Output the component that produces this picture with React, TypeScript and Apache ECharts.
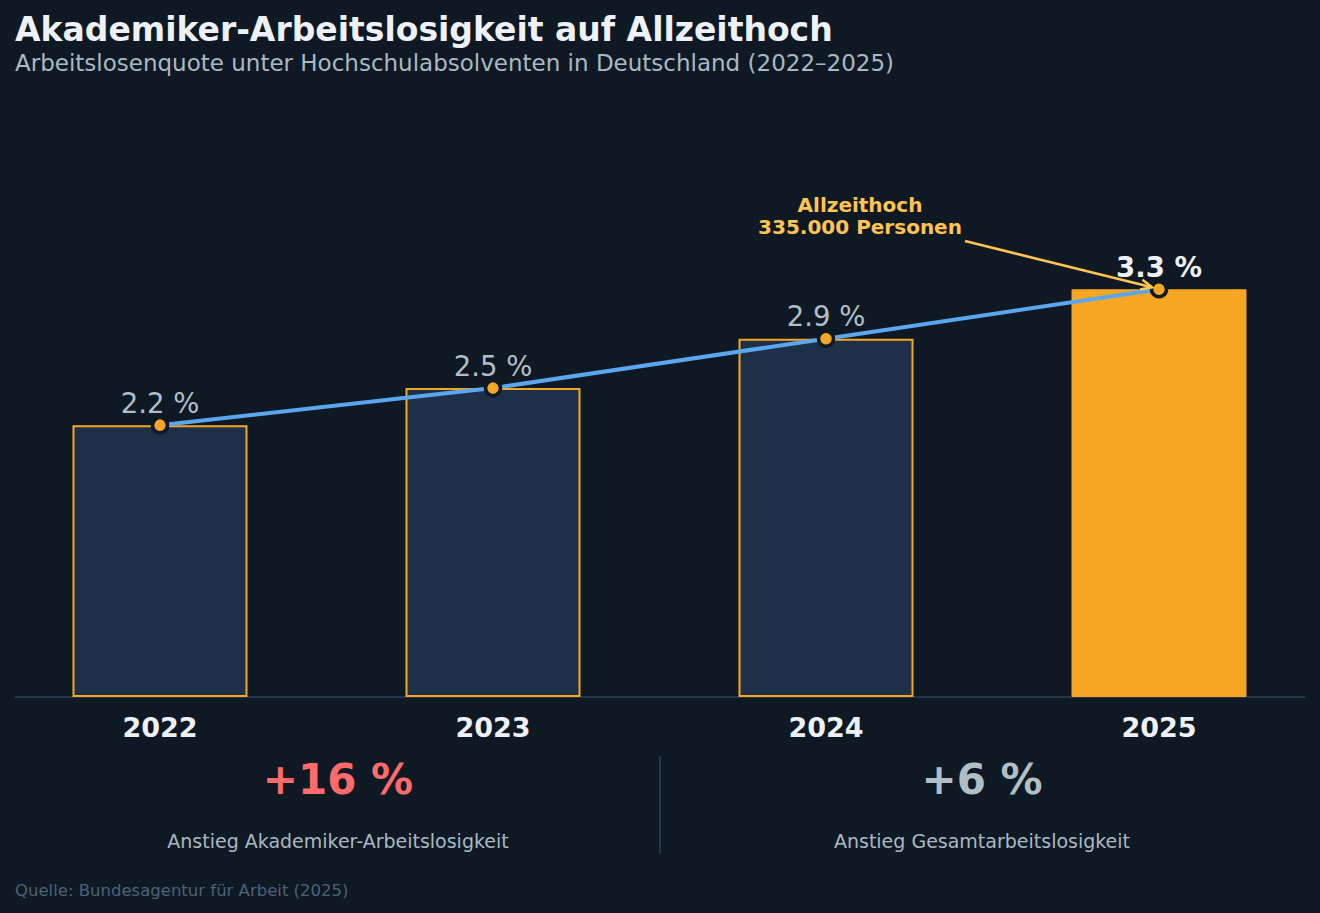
import React, { useEffect, useRef } from "react";
import * as echarts from "echarts";

const years = ["2022", "2023", "2024", "2025"];
const rates = [2.2, 2.5, 2.9, 3.3];
const rateLabels = ["2.2 %", "2.5 %", "2.9 %", "3.3 %"];
const kpiValues = ["+16 %", "+6 %"];
const kpiLabels = ["Anstieg Akademiker-Arbeitslosigkeit", "Anstieg Gesamtarbeitslosigkeit"];

const FONT = "DejaVu Sans";
const BG = "#0f1923";
const ORANGE = "#f5a623";

export default function App() {
  const ref = useRef<HTMLDivElement>(null);
  useEffect(() => {
    document.body.style.margin = "0";
    const chart = echarts.init(ref.current!, null, { renderer: "svg" });
    const last = rates.length - 1;
    const idx = years.map((_, i) => i);
    const option: any = {
      animation: false,
      backgroundColor: BG,
      textStyle: { fontFamily: FONT },
      grid: { left: 15, right: 15, top: 141, bottom: 913 - 697 },
      xAxis: {
        type: "value",
        min: -0.4354,
        max: 3.4384,
        splitLine: { show: false },
        axisLine: { show: true, onZero: false, lineStyle: { color: "#2a3f58", width: 1.5 } },
        axisTick: { show: false },
        axisLabel: {
          customValues: idx,
          color: "#eef2f8",
          fontSize: 27,
          fontWeight: "bold",
          margin: 17,
          fontFamily: FONT,
          formatter: (v: number) => years[Math.round(v)] ?? "",
        },
      },
      yAxis: { type: "value", min: 0, max: 4.5, show: false, splitLine: { show: false } },
      series: [
        {
          type: "bar",
          barWidth: 175,
          data: rates.map((v, i) =>
            i === last
              ? { value: [i, v], itemStyle: { color: ORANGE, borderColor: ORANGE, borderWidth: 1 } }
              : { value: [i, v], itemStyle: { color: "#1e3048", borderColor: ORANGE, borderWidth: 2 } }
          ),
          z: 2,
        },
        {
          type: "line",
          z: 5,
          lineStyle: { color: "#5aa7f0", width: 4 },
          symbol: "circle",
          symbolSize: 15,
          itemStyle: { color: ORANGE, borderColor: BG, borderWidth: 3.5 },
          label: {
            show: true,
            position: "top",
            distance: -1,
            fontFamily: FONT,
            formatter: (p: any) => rateLabels[p.dataIndex],
            color: "#b0bec5",
            fontSize: 27.5,
          },
          data: rates.map((v, i) =>
            i === last
              ? { value: [i, v], label: { color: "#eef2f8", fontWeight: "bold" } }
              : { value: [i, v] }
          ),
        },
      ],
    };
    chart.setOption(option);

    const end = chart.convertToPixel({ gridIndex: 0 }, [last, rates[last]]) as number[];
    const sx = 965, sy = 241;
    const ex = end[0] - 7, ey = end[1] - 2;
    const ang = Math.atan2(ey - sy, ex - sx);
    const ah = 11, aw = 5;
    const bx = ex - ah * Math.cos(ang), by = ey - ah * Math.sin(ang);
    chart.setOption({
      graphic: [
        { type: "text", left: 15, top: 13, style: { text: "Akademiker-Arbeitslosigkeit auf Allzeithoch", fill: "#eef2f8", font: `bold 33px "${FONT}"` } },
        { type: "text", x: 15, y: 63, style: { text: "Arbeitslosenquote unter Hochschulabsolventen in Deutschland (2022–2025)", fill: "#aab8c4", font: `23px "${FONT}"`, verticalAlign: "middle" } },
        { type: "text", x: 860, y: 216, style: { text: "Allzeithoch\n335.000 Personen", fill: "#ffc452", font: `bold 20px "${FONT}"`, align: "center", verticalAlign: "middle", lineHeight: 22 } },
        { type: "line", shape: { x1: sx, y1: sy, x2: ex, y2: ey }, style: { stroke: "#ffc452", lineWidth: 2.5 }, z: 20 },
        { type: "polyline", shape: { points: [
          [bx - aw * Math.sin(ang), by + aw * Math.cos(ang)], [ex, ey], [bx + aw * Math.sin(ang), by - aw * Math.cos(ang)],
        ] }, style: { stroke: "#ffc452", lineWidth: 2.5, fill: "none" }, z: 20 },
        { type: "text", x: 338, y: 779, style: { text: kpiValues[0], fill: "#ff6b6b", font: `bold 42px "${FONT}"`, align: "center", verticalAlign: "middle" } },
        { type: "text", x: 982, y: 779, style: { text: kpiValues[1], fill: "#b0bec5", font: `bold 42px "${FONT}"`, align: "center", verticalAlign: "middle" } },
        { type: "text", x: 338, y: 841, style: { text: kpiLabels[0], fill: "#aab8c4", font: `19px "${FONT}"`, align: "center", verticalAlign: "middle" } },
        { type: "text", x: 982, y: 841, style: { text: kpiLabels[1], fill: "#aab8c4", font: `19px "${FONT}"`, align: "center", verticalAlign: "middle" } },
        { type: "line", shape: { x1: 660, y1: 756, x2: 660, y2: 853 }, style: { stroke: "#2a3f58", lineWidth: 1.5 } },
        { type: "text", x: 15, y: 890, style: { text: "Quelle: Bundesagentur für Arbeit (2025)", fill: "#4e6178", font: `16.5px "${FONT}"`, verticalAlign: "middle" } },
      ],
    });
    return () => chart.dispose();
  }, []);
  return <div ref={ref} style={{ width: 1320, height: 913 }} />;
}
